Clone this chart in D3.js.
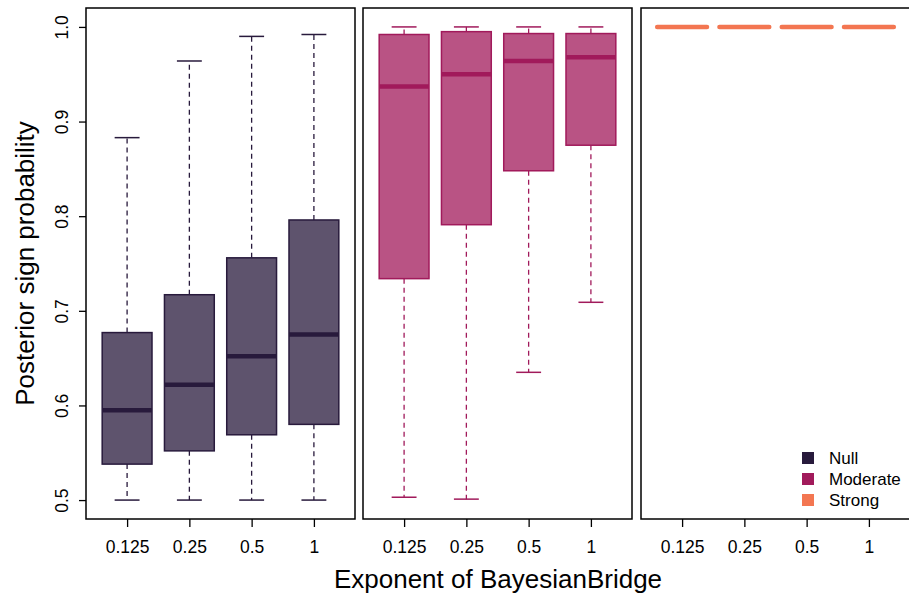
<!DOCTYPE html>
<html>
<head>
<meta charset="utf-8">
<script src="https://cdn.jsdelivr.net/npm/d3@7"></script>
<style>
  body { margin: 0; background: #fff; }
  text { font-family: "Liberation Sans", Arial, sans-serif; }
</style>
</head>
<body>
<script>
// exponent values on the x axis
var categories = ["0.125", "0.25", "0.5", "1"];
var groups = ["Null", "Moderate", "Strong"];
var colors = ["#281a3c", "#a11a5b", "#f37651"];
var yTicks = [0.5, 0.6, 0.7, 0.8, 0.9, 1.0];

// box stats per exponent: [lower whisker, Q1, median, Q3, upper whisker]
var nullStats = [
  [0.500, 0.538, 0.595, 0.677, 0.883],
  [0.500, 0.552, 0.622, 0.717, 0.964],
  [0.500, 0.569, 0.652, 0.756, 0.990],
  [0.500, 0.580, 0.675, 0.796, 0.992]
];
var moderateStats = [
  [0.503, 0.734, 0.937, 0.992, 1.000],
  [0.501, 0.791, 0.950, 0.995, 1.000],
  [0.635, 0.848, 0.964, 0.993, 1.000],
  [0.709, 0.875, 0.968, 0.993, 1.000]
];
var strongStats = [
  [1, 1, 1, 1, 1],
  [1, 1, 1, 1, 1],
  [1, 1, 1, 1, 1],
  [1, 1, 1, 1, 1]
];
var allStats = [nullStats, moderateStats, strongStats];

var width = 909, height = 598;
var plotTop = 8, plotBottom = 519;
var panelW = 269;
var panelLeft = [86, 363, 641];

var svg = d3.select("body").append("svg")
  .attr("width", width)
  .attr("height", height);

// R style: 4% extension on both axes
var y = d3.scaleLinear().domain([0.48, 1.02]).range([plotBottom, plotTop]);
var x = d3.scaleLinear().domain([0.34, 4.66]).range([0, panelW]);
var half = 0.4; // boxwex / 2

groups.forEach(function(g, gi) {
  var col = colors[gi];
  var fill = d3.color(col); fill.opacity = 0.75;
  var p = svg.append("g").attr("transform", "translate(" + panelLeft[gi] + ",0)");

  var box = p.selectAll(".box")
    .data(allStats[gi])
    .enter().append("g").attr("class", "box");

  // whiskers (dashed)
  box.append("line")
    .attr("x1", function(d, i) { return x(i + 1); })
    .attr("x2", function(d, i) { return x(i + 1); })
    .attr("y1", function(d) { return y(d[3]); })
    .attr("y2", function(d) { return y(d[4]); })
    .attr("stroke", col).attr("stroke-width", 1.3).attr("stroke-dasharray", "5,4");
  box.append("line")
    .attr("x1", function(d, i) { return x(i + 1); })
    .attr("x2", function(d, i) { return x(i + 1); })
    .attr("y1", function(d) { return y(d[1]); })
    .attr("y2", function(d) { return y(d[0]); })
    .attr("stroke", col).attr("stroke-width", 1.3).attr("stroke-dasharray", "5,4");

  // staples
  [0, 4].forEach(function(k) {
    box.append("line")
      .attr("x1", function(d, i) { return x(i + 1 - half / 2); })
      .attr("x2", function(d, i) { return x(i + 1 + half / 2); })
      .attr("y1", function(d) { return y(d[k]); })
      .attr("y2", function(d) { return y(d[k]); })
      .attr("stroke", col).attr("stroke-width", 1.5)
      .attr("visibility", gi === 2 ? "hidden" : "visible");
  });

  // boxes
  box.append("rect")
    .attr("x", function(d, i) { return x(i + 1 - half); })
    .attr("width", x(1 + half) - x(1 - half))
    .attr("y", function(d) { return y(d[3]); })
    .attr("height", function(d) { return y(d[1]) - y(d[3]); })
    .attr("fill", fill.toString())
    .attr("stroke", col).attr("stroke-width", 1.5)
    .attr("visibility", gi === 2 ? "hidden" : "visible");

  // medians
  box.append("line")
    .attr("x1", function(d, i) { return x(i + 1 - half); })
    .attr("x2", function(d, i) { return x(i + 1 + half); })
    .attr("y1", function(d) { return y(d[2]); })
    .attr("y2", function(d) { return y(d[2]); })
    .attr("stroke", col).attr("stroke-width", 4.5)
    .attr("stroke-linecap", gi === 2 ? "round" : "butt");

  // panel frame
  p.append("rect")
    .attr("x", 0).attr("y", plotTop)
    .attr("width", panelW).attr("height", plotBottom - plotTop)
    .attr("fill", "none").attr("stroke", "#000").attr("stroke-width", 1.5);

  // x axis
  var xAxis = d3.axisBottom(x)
    .tickValues([1, 2, 3, 4])
    .tickFormat(function(d) { return categories[d - 1]; })
    .tickSize(8).tickPadding(14);
  var ax = p.append("g").attr("transform", "translate(0," + plotBottom + ")").call(xAxis);
  ax.select(".domain").remove();
  ax.selectAll("line").attr("stroke-width", 1.3);
  ax.selectAll("text").attr("font-size", 17.5).attr("fill", "#000")
    .style("font-family", "Liberation Sans, Arial, sans-serif");
});

// y axis on first panel
var yAxis = d3.axisLeft(y).tickValues(yTicks).tickFormat(d3.format(".1f")).tickSize(7);
var ay = svg.append("g").attr("transform", "translate(" + panelLeft[0] + ",0)").call(yAxis);
ay.select(".domain").remove();
ay.selectAll("line").attr("stroke-width", 1.3);
ay.selectAll("text")
  .attr("font-size", 17.5).attr("fill", "#000")
  .style("font-family", "Liberation Sans, Arial, sans-serif")
  .attr("text-anchor", "middle")
  .attr("x", 0).attr("dy", null)
  .attr("transform", "translate(-18,0) rotate(-90)")
  .attr("y", 0).attr("dominant-baseline", "auto");

// axis titles
svg.append("text")
  .attr("x", 498).attr("y", 588)
  .attr("text-anchor", "middle")
  .attr("font-size", 26)
  .text("Exponent of BayesianBridge");

svg.append("text")
  .attr("transform", "translate(34," + ((plotTop + plotBottom) / 2) + ") rotate(-90)")
  .attr("text-anchor", "middle")
  .attr("font-size", 26)
  .text("Posterior sign probability");

// legend
var legend = svg.append("g").attr("transform", "translate(802,452)");
var li = legend.selectAll("g").data(groups).enter().append("g")
  .attr("transform", function(d, i) { return "translate(0," + (i * 21) + ")"; });
li.append("rect").attr("width", 12).attr("height", 12)
  .attr("fill", function(d, i) { return colors[i]; });
li.append("text").attr("x", 27).attr("y", 12)
  .attr("font-size", 17)
  .text(function(d) { return d; });
</script>
</body>
</html>
